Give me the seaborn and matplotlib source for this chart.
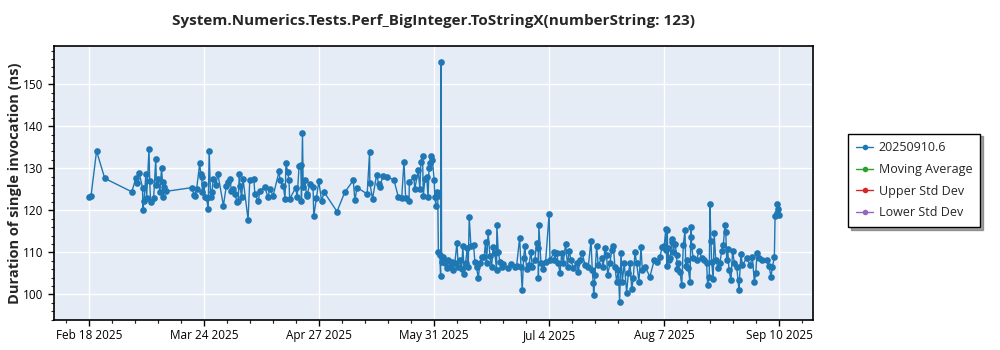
import matplotlib
matplotlib.use("Agg")
import matplotlib.pyplot as plt
import matplotlib.dates as mdates
from matplotlib.lines import Line2D
from matplotlib.ticker import MultipleLocator, NullFormatter, FixedLocator
import pandas as pd
import seaborn as sns

TITLE = "System.Numerics.Tests.Perf_BigInteger.ToStringX(numberString: 123)"
Y_LABEL = "Duration of single invocation (ns)"
SERIES_NAME = "20250910.6"
LEGEND_LABELS = [SERIES_NAME, "Moving Average", "Upper Std Dev", "Lower Std Dev"]
LEGEND_COLORS = ["#1f77b4", "#2ca02c", "#d62728", "#9467bd"]

TICK_DATES = ["2025-02-18", "2025-03-24", "2025-04-27", "2025-05-31",
              "2025-07-04", "2025-08-07", "2025-09-10"]
TICK_LABELS = ["Feb 18 2025", "Mar 24 2025", "Apr 27 2025", "May 31 2025",
               "Jul 4 2025", "Aug 7 2025", "Sep 10 2025"]

# Run timestamps (day + hour) and measured durations in ns
run_times = [
    "2025-02-17T20", "2025-02-18T14", "2025-02-20T05", "2025-02-22T15", "2025-03-02T15",
    "2025-03-03T19", "2025-03-04T02", "2025-03-04T19", "2025-03-05T19", "2025-03-05T22",
    "2025-03-06T05", "2025-03-06T19", "2025-03-07T00", "2025-03-07T17", "2025-03-07T22",
    "2025-03-08T05", "2025-03-09T02", "2025-03-09T17", "2025-03-09T22", "2025-03-10T10",
    "2025-03-10T22", "2025-03-11T10", "2025-03-11T17", "2025-03-11T22", "2025-03-12T02",
    "2025-03-12T17", "2025-03-20T10", "2025-03-21T00", "2025-03-21T07", "2025-03-21T19",
    "2025-03-22T17", "2025-03-23T00", "2025-03-23T07", "2025-03-23T12", "2025-03-24T00",
    "2025-03-24T05", "2025-03-24T17", "2025-03-25T05", "2025-03-25T12", "2025-03-25T22",
    "2025-03-26T07", "2025-03-26T17", "2025-03-27T12", "2025-03-28T02", "2025-03-29T17",
    "2025-03-30T14", "2025-03-31T02", "2025-03-31T14", "2025-04-01T02", "2025-04-01T10",
    "2025-04-02T02", "2025-04-02T19", "2025-04-03T02", "2025-04-03T10", "2025-04-03T14",
    "2025-04-04T02", "2025-04-04T12", "2025-04-06T00", "2025-04-06T12", "2025-04-07T17",
    "2025-04-08T00", "2025-04-09T00", "2025-04-09T12", "2025-04-10T22", "2025-04-11T22",
    "2025-04-12T10", "2025-04-13T10", "2025-04-15T05", "2025-04-15T10", "2025-04-16T10",
    "2025-04-16T22", "2025-04-17T05", "2025-04-17T17", "2025-04-18T02", "2025-04-18T07",
    "2025-04-20T02", "2025-04-20T12", "2025-04-21T02", "2025-04-21T14", "2025-04-21T19",
    "2025-04-22T02", "2025-04-22T07", "2025-04-22T19", "2025-04-23T07", "2025-04-23T12",
    "2025-04-24T07", "2025-04-25T05", "2025-04-25T10", "2025-04-26T05", "2025-04-26T22",
    "2025-04-27T17", "2025-04-28T12", "2025-05-02T07", "2025-05-04T14", "2025-05-07T02",
    "2025-05-07T14", "2025-05-08T05", "2025-05-11T05", "2025-05-11T22", "2025-05-12T00",
    "2025-05-12T19", "2025-05-14T00", "2025-05-14T14", "2025-05-15T00", "2025-05-15T19",
    "2025-05-17T02", "2025-05-19T02", "2025-05-20T10", "2025-05-21T10", "2025-05-22T02",
    "2025-05-22T14", "2025-05-23T14", "2025-05-23T16", "2025-05-25T00", "2025-05-25T07",
    "2025-05-26T07", "2025-05-26T19", "2025-05-27T02", "2025-05-27T14", "2025-05-27T19",
    "2025-05-28T07", "2025-05-28T19", "2025-05-29T05", "2025-05-29T12", "2025-05-29T22",
    "2025-05-30T05", "2025-05-30T12", "2025-05-31T00", "2025-05-31T05", "2025-05-31T12",
    "2025-05-31T17", "2025-06-01T02", "2025-06-01T06", "2025-06-01T17", "2025-06-01T22",
    "2025-06-02T02", "2025-06-02T05", "2025-06-02T17", "2025-06-03T05", "2025-06-03T17",
    "2025-06-04T04", "2025-06-04T16", "2025-06-05T04", "2025-06-05T15", "2025-06-06T03",
    "2025-06-06T18", "2025-06-07T03", "2025-06-07T15", "2025-06-08T03", "2025-06-08T12",
    "2025-06-08T21", "2025-06-09T07", "2025-06-09T19", "2025-06-10T02", "2025-06-10T09",
    "2025-06-10T21", "2025-06-11T16", "2025-06-12T01", "2025-06-12T13", "2025-06-13T01",
    "2025-06-13T13", "2025-06-14T05", "2025-06-14T19", "2025-06-15T05", "2025-06-15T12",
    "2025-06-15T23", "2025-06-16T12", "2025-06-17T00", "2025-06-17T11", "2025-06-17T23",
    "2025-06-18T11", "2025-06-18T13", "2025-06-18T23", "2025-06-19T11", "2025-06-19T23",
    "2025-06-20T10", "2025-06-21T22", "2025-06-22T17", "2025-06-23T21", "2025-06-24T09",
    "2025-06-25T07", "2025-06-25T16", "2025-06-26T01", "2025-06-26T11", "2025-06-26T20",
    "2025-06-27T08", "2025-06-28T01", "2025-06-28T15", "2025-06-29T00", "2025-06-29T19",
    "2025-06-30T07", "2025-06-30T19", "2025-06-30T20", "2025-06-30T23", "2025-07-01T14",
    "2025-07-02T06", "2025-07-02T23", "2025-07-04T00", "2025-07-04T06", "2025-07-05T12",
    "2025-07-05T14", "2025-07-06T05", "2025-07-06T17", "2025-07-07T05", "2025-07-07T17",
    "2025-07-08T04", "2025-07-08T21", "2025-07-09T11", "2025-07-09T21", "2025-07-10T11",
    "2025-07-11T03", "2025-07-12T03", "2025-07-12T15", "2025-07-13T03", "2025-07-13T19",
    "2025-07-14T14", "2025-07-15T14", "2025-07-16T09", "2025-07-16T18", "2025-07-17T01",
    "2025-07-17T04", "2025-07-17T13", "2025-07-18T01", "2025-07-18T12", "2025-07-19T13",
    "2025-07-20T00", "2025-07-20T12", "2025-07-21T00", "2025-07-21T07", "2025-07-21T23",
    "2025-07-22T12", "2025-07-22T23", "2025-07-23T11", "2025-07-23T23", "2025-07-24T11",
    "2025-07-24T20", "2025-07-25T06", "2025-07-25T15", "2025-07-26T05", "2025-07-26T22",
    "2025-07-27T10", "2025-07-27T22", "2025-07-28T10", "2025-07-28T21", "2025-07-29T09",
    "2025-07-29T21", "2025-07-30T13", "2025-07-31T04", "2025-07-31T13", "2025-08-01T08",
    "2025-08-02T19", "2025-08-04T02", "2025-08-04T19", "2025-08-05T18", "2025-08-06T11",
    "2025-08-07T01", "2025-08-07T11", "2025-08-07T16", "2025-08-07T19", "2025-08-07T22",
    "2025-08-08T01", "2025-08-08T11", "2025-08-08T18", "2025-08-09T06", "2025-08-09T10",
    "2025-08-09T17", "2025-08-10T05", "2025-08-10T17", "2025-08-10T19", "2025-08-11T04",
    "2025-08-11T16", "2025-08-12T05", "2025-08-12T16", "2025-08-13T04", "2025-08-13T09",
    "2025-08-13T16", "2025-08-14T03", "2025-08-14T15", "2025-08-14T23", "2025-08-15T01",
    "2025-08-15T03", "2025-08-15T14", "2025-08-16T14", "2025-08-17T09", "2025-08-18T02",
    "2025-08-18T20", "2025-08-19T13", "2025-08-19T21", "2025-08-20T08", "2025-08-20T13",
    "2025-08-20T20", "2025-08-21T01", "2025-08-21T12", "2025-08-21T19", "2025-08-22T06",
    "2025-08-23T00", "2025-08-23T12", "2025-08-24T00", "2025-08-24T12", "2025-08-24T23",
    "2025-08-25T05", "2025-08-25T12", "2025-08-25T19", "2025-08-26T04", "2025-08-26T18",
    "2025-08-27T06", "2025-08-27T18", "2025-08-28T11", "2025-08-29T03", "2025-08-29T06",
    "2025-08-29T17", "2025-08-30T03", "2025-08-31T10", "2025-09-01T09", "2025-09-02T02",
    "2025-09-02T16", "2025-09-03T02", "2025-09-03T11", "2025-09-04T01", "2025-09-04T20",
    "2025-09-06T08", "2025-09-07T00", "2025-09-07T14", "2025-09-08T00", "2025-09-08T14",
    "2025-09-08T19", "2025-09-09T07", "2025-09-09T10", "2025-09-09T18", "2025-09-09T23",
]

durations = [
    123.2, 123.5, 134.1, 127.6, 124.4,
    127.6, 126.5, 128.9, 125.4, 120.1,
    122.1, 128.6, 122.9, 134.5, 126.9,
    121.9, 123.0, 132.2, 126.1, 127.5,
    124.3, 130.0, 126.7, 123.2, 125.5,
    124.5, 125.4, 123.7, 123.5, 125.1,
    131.2, 128.7, 127.9, 124.3, 126.3,
    123.1, 122.9, 120.3, 134.1, 123.1,
    124.3, 127.5, 126.1, 128.6, 121.1,
    125.9, 126.7, 127.5, 124.7, 125.1,
    123.9, 121.9, 122.3, 128.7, 125.9,
    123.1, 127.5, 117.8, 127.3, 127.5,
    123.9, 122.1, 124.7, 125.5, 123.1,
    125.1, 123.5, 129.4, 127.1, 125.9,
    122.7, 131.2, 129.1, 127.1, 122.7,
    125.4, 123.1, 130.5, 130.8, 122.3,
    138.4, 125.5, 127.1, 123.5, 123.9,
    126.3, 125.5, 118.6, 122.9, 126.9,
    122.3, 124.3, 119.7, 124.3, 127.1,
    122.4, 125.4, 123.9, 133.8, 126.5,
    122.7, 128.5, 126.3, 125.5, 128.1,
    127.9, 127.3, 123.2, 122.9, 131.6,
    122.9, 122.1, 126.7, 127.9, 125.1,
    129.5, 125.1, 131.6, 132.9, 123.5,
    127.5, 127.9, 123.1, 130.0, 131.2,
    132.8, 132.0, 127.3, 123.2, 121.1,
    124.3, 123.5, 110.0, 109.4, 104.4,
    155.2, 107.8, 109.0, 107.4, 106.2,
    108.2, 106.6, 107.8, 105.8, 107.4,
    112.3, 106.6, 108.2, 106.0, 111.6,
    104.8, 107.4, 111.0, 106.6, 118.4,
    111.5, 111.7, 107.8, 106.6, 103.8,
    107.4, 109.0, 109.0, 112.5, 107.5,
    114.8, 109.1, 106.6, 111.3, 109.8,
    105.8, 116.5, 110.1, 107.8, 106.6,
    107.2, 106.2, 107.2, 106.6, 106.7,
    113.5, 106.6, 101.0, 108.6, 111.5,
    106.0, 107.0, 110.1, 106.6, 108.2,
    112.3, 111.0, 104.0, 116.4, 107.4,
    106.0, 107.8, 119.2, 108.2, 110.0,
    108.2, 109.9, 107.4, 105.0, 109.8,
    107.4, 112.1, 106.6, 110.4, 108.2,
    106.2, 107.4, 105.4, 108.2, 109.9,
    107.0, 106.6, 112.8, 105.8, 102.6,
    99.8, 104.6, 111.5, 107.0, 108.6,
    106.6, 111.0, 109.4, 104.6, 107.4,
    110.5, 111.5, 106.6, 103.0, 105.8,
    98.2, 109.8, 103.0, 107.4, 100.4,
    105.0, 107.4, 101.2, 103.8, 110.0,
    107.4, 103.0, 111.2, 105.8, 106.6,
    104.2, 108.2, 107.8, 109.0, 111.3,
    111.5, 115.5, 110.5, 106.7, 115.3,
    111.0, 108.2, 108.6, 112.5, 113.1,
    110.1, 112.1, 109.4, 106.0, 107.4,
    105.4, 102.2, 111.7, 115.3, 106.7,
    108.2, 106.2, 103.0, 116.0, 113.7,
    111.5, 108.6, 108.2, 110.4, 108.6,
    108.2, 107.5, 102.2, 104.2, 121.5,
    112.8, 107.8, 103.6, 114.5, 108.2,
    106.2, 107.4, 110.4, 111.7, 116.5,
    114.9, 108.2, 110.7, 105.8, 103.4,
    110.4, 107.4, 106.6, 101.0, 103.4,
    109.6, 107.0, 108.6, 107.0, 108.8,
    103.0, 105.0, 109.8, 108.6, 108.2,
    108.2, 106.7, 104.2, 106.4, 109.0,
    118.6, 119.3, 121.5, 120.2, 118.9,
]

df = pd.DataFrame({
    "time": pd.to_datetime(run_times, format="%Y-%m-%dT%H"),
    "duration": durations,
})

sns.set_style("white", {"axes.facecolor": "#E5ECF6"})
plt.rcParams["font.family"] = ["Open Sans", "DejaVu Sans"]

fig = plt.figure(figsize=(10, 3.5), dpi=100)
ax = fig.add_axes([0.054, 0.0857, 0.7587, 0.783])
ax.set_facecolor("#E5ECF6")

sns.lineplot(data=df, x="time", y="duration", ax=ax, color=LEGEND_COLORS[0],
             linewidth=1.0, marker="o", markersize=4.8, markeredgewidth=0,
             estimator=None, sort=False, legend=False)

ax.set_xlim(pd.Timestamp("2025-02-07T15"), pd.Timestamp("2025-09-19T22"))
ax.set_ylim(93.9, 159.1)

tick_pos = pd.to_datetime(TICK_DATES)
ax.set_xticks(tick_pos)
ax.set_xticklabels(TICK_LABELS)
# minor ticks split each 34-day interval into fifths
minor_days = [t + pd.Timedelta(days=6.8 * k) for t in tick_pos for k in range(-4, 5)]
ax.xaxis.set_minor_locator(FixedLocator(mdates.date2num(minor_days)))
ax.xaxis.set_minor_formatter(NullFormatter())
ax.yaxis.set_major_locator(MultipleLocator(10))
ax.yaxis.set_minor_locator(MultipleLocator(2))

ax.grid(True, which="major", color="white", linewidth=1.0)
ax.set_axisbelow(True)
for side in ax.spines.values():
    side.set_color("black")
    side.set_linewidth(1.2)

ax.tick_params(axis="both", which="major", direction="out", length=4, width=1,
               labelsize=8.5, colors="black", bottom=True, left=True)
ax.tick_params(axis="both", which="minor", direction="out", length=2, width=0.8,
               bottom=True, left=True)
ax.tick_params(axis="x", which="major", pad=9.5)
for lbl in ax.get_xticklabels():
    lbl.set_verticalalignment("baseline")

ax.set_xlabel("")
ax.set_ylabel(Y_LABEL, fontsize=10.5, fontweight="bold", labelpad=0.5)
ax.set_title(TITLE, fontsize=11, fontweight="bold", pad=15)

handles = [Line2D([0], [0], color=c, linewidth=1.0, marker="o", markersize=4,
                  markeredgewidth=0) for c in LEGEND_COLORS]
leg = fig.legend(handles, LEGEND_LABELS, loc="center left",
                 bbox_to_anchor=(0.842, 0.485), frameon=True, shadow=True,
                 fancybox=False, fontsize=9, handlelength=1.4,
                 handletextpad=0.45, labelspacing=0.7, borderpad=0.6,
                 facecolor="white", framealpha=1.0)
leg.get_frame().set_edgecolor("black")
leg.get_frame().set_linewidth(1.0)

fig.savefig("out.png", dpi=100)
